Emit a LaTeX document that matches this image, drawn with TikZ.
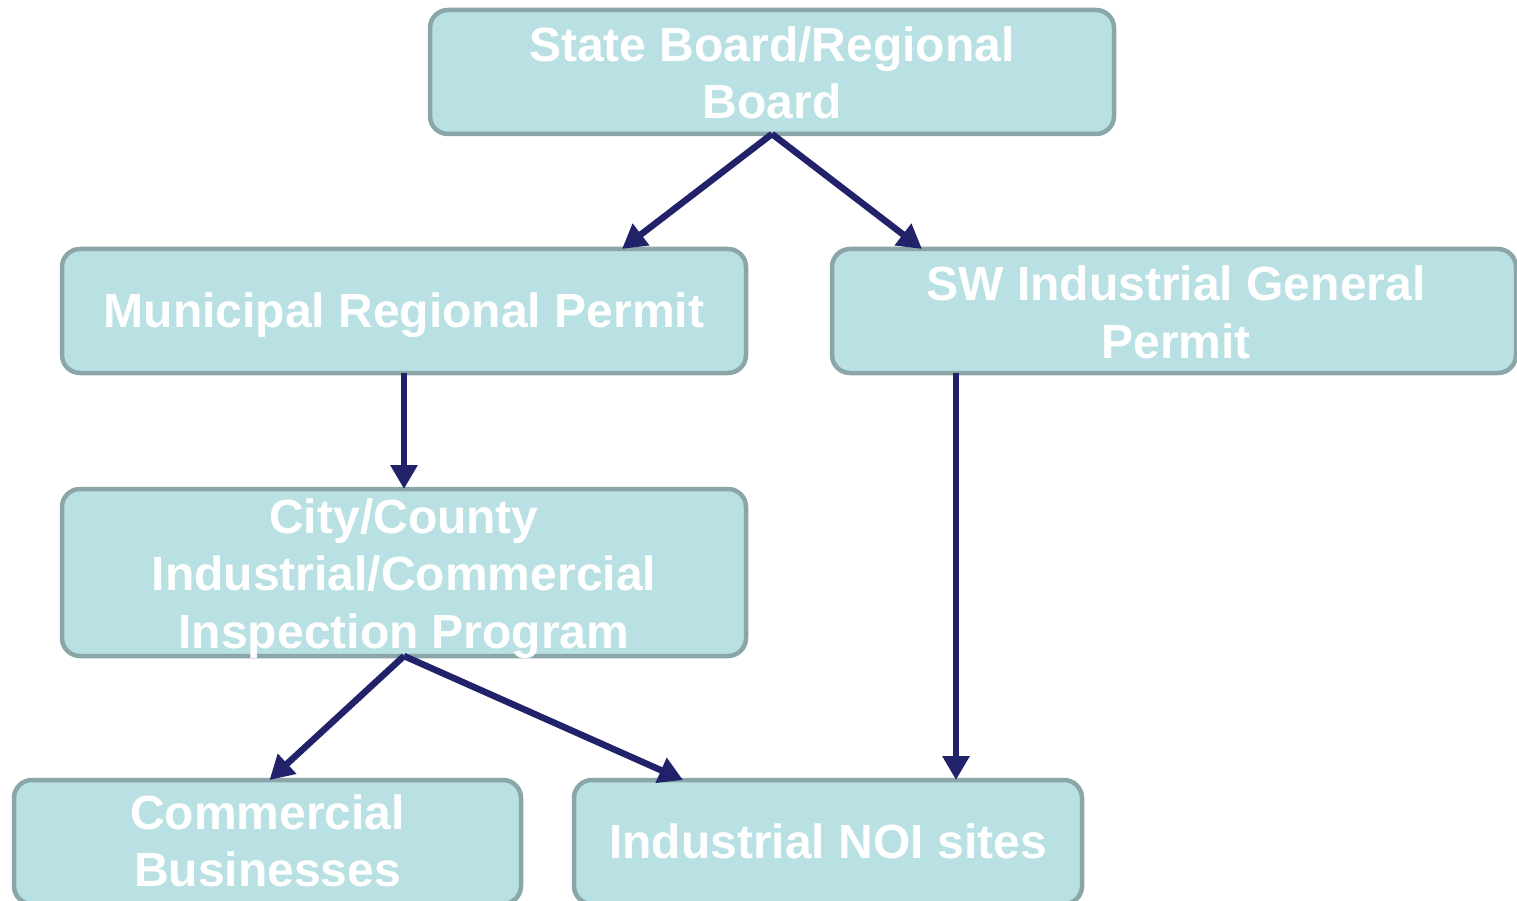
\documentclass[tikz,border=0pt]{standalone}
\usepackage{fontspec}
\setmainfont{Liberation Sans}
\usetikzlibrary{arrows.meta,calc}
\definecolor{boxfill}{HTML}{B9E0E3}
\definecolor{boxline}{HTML}{8AA6A8}
\definecolor{arrowc}{HTML}{22226B}
\tikzset{
  orgbox/.style={draw=boxline, line width=4.5pt, fill=boxfill, rounded corners=18pt,
    minimum width=684pt, minimum height=124pt, inner sep=0pt, outer sep=0pt},
  boxtext/.style={inner sep=0pt, align=center, text=white,
    font=\fontsize{48}{57.5}\selectfont\bfseries},
  link/.style={draw=arrowc, line width=6.5pt, -{Triangle[length=24pt,width=26pt]}}
}
\begin{document}
\begin{tikzpicture}[x=1pt,y=-1pt]
\useasboundingbox (0,0) rectangle (1517,901);
\fill[white] (0,0) rectangle (1517,901);
\node[orgbox] (sb) at (772,72) {};
\node[orgbox] (mrp) at (404,311) {};
\node[orgbox] (sw) at (1174,311) {};
\node[orgbox, minimum height=167pt] (cc) at (404,572.5) {};
\node[orgbox, minimum width=507pt] (cb) at (267.5,842) {};
\node[orgbox, minimum width=508pt] (noi) at (828,842) {};
\node[boxtext] (sbt) at ($(sb)+(0,1)$) {State Board/Regional\\Board};
\node[boxtext] (mrpt) at ($(mrp)+(0,4)$) {Municipal Regional Permit};
\node[boxtext] (swt) at ($(sw)+(2,1.5)$) {SW Industrial General\\Permit};
\node[boxtext] (cct) at ($(cc)+(0,6)$) {City/County\\Industrial/Commercial\\Inspection Program};
\node[boxtext] (cbt) at ($(cb)+(0,-1)$) {Commercial\\Businesses};
\node[boxtext] (noit) at ($(noi)+(0,-1)$) {Industrial NOI sites};
\draw[link] (sb.south) -- ($(mrp.north)+(218,0)$);
\draw[link] (sb.south) -- ($(sw.north)+(-252,0)$);
\draw[link] (mrp.south) -- (cc.north);
\draw[link] (cc.south) -- ($(cb.north)+(2,0)$);
\draw[link] (cc.south) -- ($(noi.north)+(-145,0)$);
\draw[link] ($(sw.south)+(-218,0)$) -- ($(noi.north)+(128,0)$);
\end{tikzpicture}
\end{document}
